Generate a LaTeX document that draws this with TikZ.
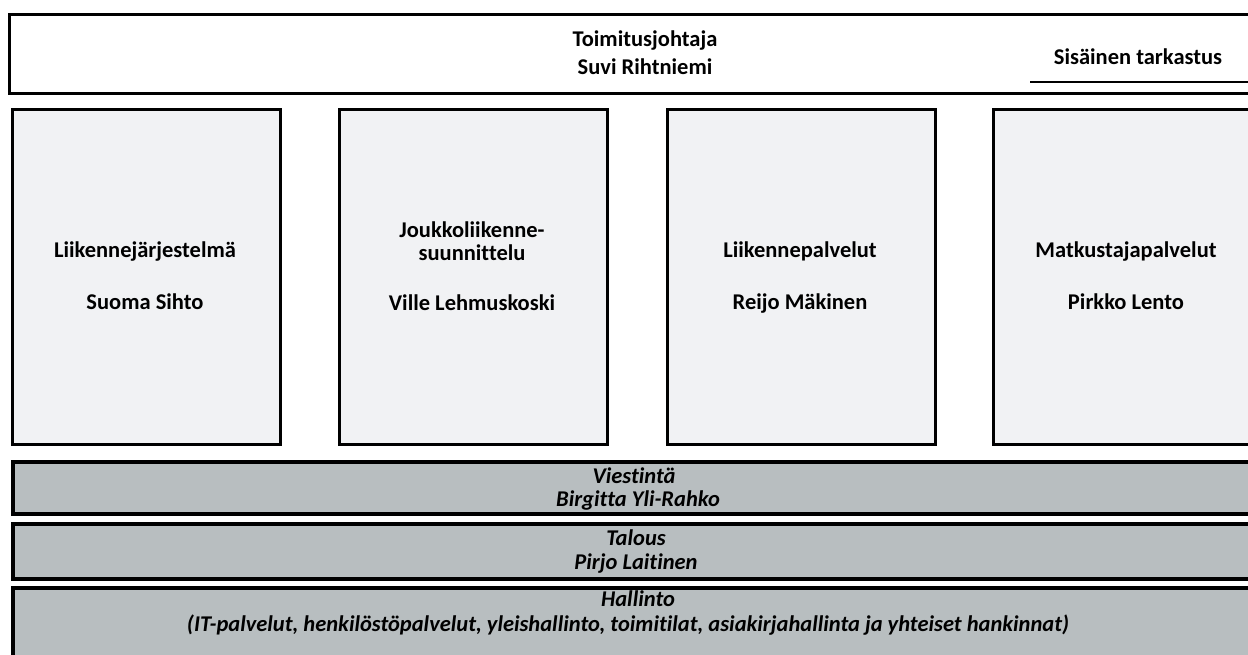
\documentclass[tikz,border=0pt]{standalone}
\usepackage{fontspec}
\setmainfont{Carlito}[Ligatures=NoCommon]
\definecolor{boxfill}{RGB}{241,242,244}
\definecolor{bandfill}{RGB}{184,190,192}
\begin{document}
\begin{tikzpicture}[x=1pt,y=-1pt,
  orgbox/.style={draw=black, line width=3pt, fill=boxfill, inner sep=0pt, anchor=north west},
  band/.style={draw=black, line width=4pt, fill=bandfill, inner sep=0pt, anchor=north west},
  toptext/.style={font=\bfseries\fontsize{22.5}{27}\selectfont, anchor=base, inner sep=0pt},
  boxtext/.style={font=\bfseries\fontsize{22.5}{27}\selectfont, anchor=base, inner sep=0pt},
  bandtext/.style={font=\bfseries\itshape\fontsize{22.5}{27}\selectfont, anchor=base, inner sep=0pt}]
\clip (0,0) rectangle (1248,655);
\fill[white] (0,0) rectangle (1248,655);
% top box
\node (top) [orgbox, fill=white, minimum width=1260pt, minimum height=79pt] at (8,13) {};
\node (tj1) [toptext] at (645,47) {Toimitusjohtaja};
\node (tj2) [toptext] at (645,75) {Suvi Rihtniemi};
\node (sis) [toptext] at (1138,65) {Sisäinen tarkastus};
\coordinate (sisl) at (1030,82);
\coordinate (sisr) at (1260,82);
\draw[line width=2pt] (sisl) -- (sisr);
% unit boxes
\node (b1) [orgbox, minimum width=268pt, minimum height=335pt] at (11,108) {};
\node (b2) [orgbox, minimum width=268pt, minimum height=335pt] at (338,108) {};
\node (b3) [orgbox, minimum width=268pt, minimum height=335pt] at (666,108) {};
\node (b4) [orgbox, minimum width=268pt, minimum height=335pt] at (992,108) {};
\node (b1a) [boxtext] at (145,258) {Liikennejärjestelmä};
\node (b1b) [boxtext] at (145,309) {Suoma Sihto};
\node (b2a) [boxtext] at (472,238) {Joukkoliikenne-};
\node (b2b) [boxtext] at (472,261) {suunnittelu};
\node (b2c) [boxtext] at (472,310) {Ville Lehmuskoski};
\node (b3a) [boxtext] at (800,258) {Liikennepalvelut};
\node (b3b) [boxtext] at (800,309) {Reijo Mäkinen};
\node (b4a) [boxtext] at (1126,258) {Matkustajapalvelut};
\node (b4b) [boxtext] at (1126,309) {Pirkko Lento};
% bands
\node (v) [band, minimum width=1260pt, minimum height=52pt] at (11,460) {};
\node (t) [band, minimum width=1260pt, minimum height=55pt] at (11,522) {};
\node (h) [band, minimum width=1260pt, minimum height=100pt] at (11,586) {};
\node (v1) [bandtext] at (634,483) {Viestintä};
\node (v2) [bandtext] at (638,506) {Birgitta Yli-Rahko};
\node (t1) [bandtext] at (636,545) {Talous};
\node (t2) [bandtext] at (636,569) {Pirjo Laitinen};
\node (h1) [bandtext] at (638,606) {Hallinto};
\node (h2) [bandtext] at (628,631) {(IT-palvelut, henkilöstöpalvelut, yleishallinto, toimitilat, asiakirjahallinta ja yhteiset hankinnat)};
\end{tikzpicture}
\end{document}
